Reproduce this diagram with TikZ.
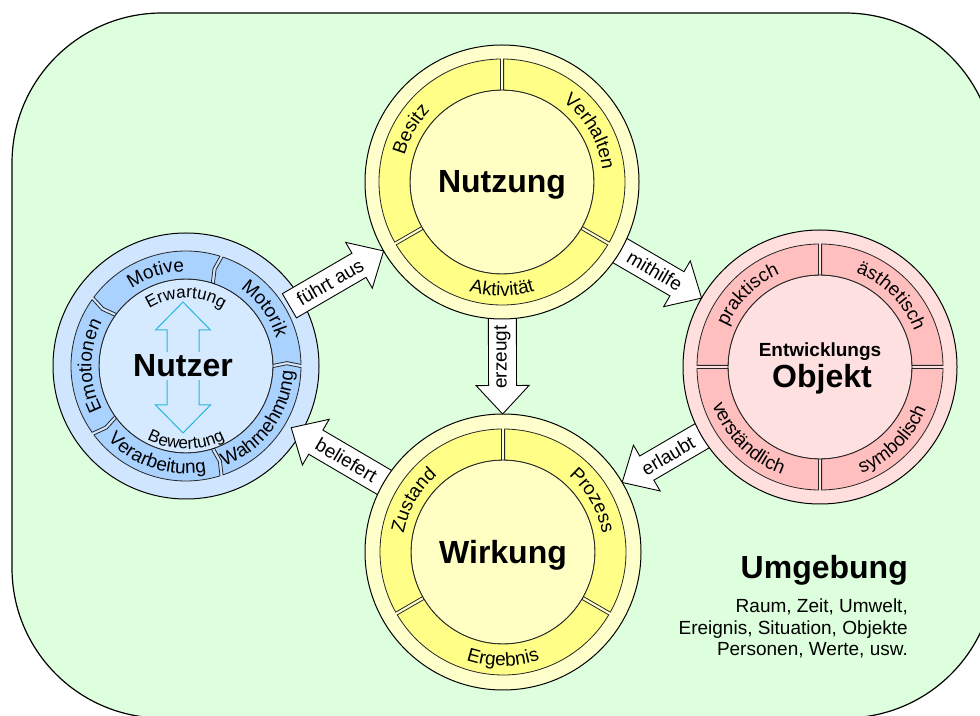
\documentclass[tikz,border=0pt]{standalone}
\usepackage{fontspec}
\setmainfont{Liberation Sans}
\usetikzlibrary{calc,decorations.text}

\definecolor{envgreen}{RGB}{221,255,221}
\definecolor{userouter}{RGB}{208,230,255}
\definecolor{userseg}{RGB}{170,210,255}
\definecolor{userinner}{RGB}{214,234,255}
\definecolor{useouter}{RGB}{255,255,204}
\definecolor{useseg}{RGB}{255,255,136}
\definecolor{useinner}{RGB}{255,255,196}
\definecolor{objouter}{RGB}{255,222,222}
\definecolor{objseg}{RGB}{255,191,191}
\definecolor{objinner}{RGB}{255,224,224}
\definecolor{cyanarrow}{RGB}{40,180,220}

\pgfdeclarelayer{envlayer}
\pgfdeclarelayer{userlayer}
\pgfdeclarelayer{arrowlayer}
\pgfsetlayers{envlayer,userlayer,arrowlayer,main}

\newcommand\segfont{\fontsize{19}{19}\selectfont}
\newcommand\innerfont{\fontsize{17}{17}\selectfont}

% annular sector of a ring between two angles, with a small gap at each end
\newcommand\ringsegment[6]{% #1 centre node, #2 start, #3 end, #4 inner r, #5 outer r, #6 fill
  \draw[segment, fill=#6, shift={(#1.center)}]
    ({#2+asin(1.6/#5)}:#5) arc[start angle={#2+asin(1.6/#5)}, end angle={#3-asin(1.6/#5)}, radius=#5]
    -- ({#3-asin(1.6/#4)}:#4) arc[start angle={#3-asin(1.6/#4)}, end angle={#2+asin(1.6/#4)}, radius=#4]
    -- cycle;}

% the same sector with a slight point at its leading end and a notch at its tail
\newcommand\cyclesegment[6]{% #1 centre node, #2 start, #3 end, #4 inner r, #5 outer r, #6 fill
  \draw[segment, fill=#6, shift={(#1.center)}]
    ({#2+asin(1.6/#5)}:#5) arc[start angle={#2+asin(1.6/#5)}, end angle={#3-asin(1.6/#5)}, radius=#5]
    -- ({#3-asin(3.2/(#4+#5))+1.6}:{(#4+#5)/2})
    -- ({#3-asin(1.6/#4)}:#4) arc[start angle={#3-asin(1.6/#4)}, end angle={#2+asin(1.6/#4)}, radius=#4]
    -- ({#2+asin(3.2/(#4+#5))+1.6}:{(#4+#5)/2})
    -- cycle;}

% text set along a circular arc round a node
\newcommand\ringlabel[6]{% #1 centre node, #2 radius, #3 start, #4 end, #5 font, #6 text
  \path[decorate, decoration={text along path, text align=center, text={|#5|#6}}]
    ([shift={(#3:#2)}]#1.center) arc[start angle=#3, end angle=#4, radius=#2];}

% block arrow pointing from one circle at another, with its label
\newcommand\flowarrow[7]{% #1 source, #2 target, #3 tip distance from target centre,
  % #4 arrow length, #5 label, #6 label distance from tip, #7 label turn
  \path (#1.center); \pgfgetlastxy{\fax}{\fay}
  \path (#2.center); \pgfgetlastxy{\fbx}{\fby}
  \pgfmathsetmacro\fang{atan2(\fby-\fay,\fbx-\fax)}
  \begin{scope}[shift={($(#2.center)!#3pt!(#1.center)$)}, rotate=\fang]
    \draw[blockarrow] (0,0) -- (-28.5,26.5) -- (-28.5,14) -- (-#4,14)
      -- (-#4,-14) -- (-28.5,-14) -- (-28.5,-26.5) -- cycle;
    \node[arrowlabel, rotate=\fang+#7] at (-#6,0) {#5};
  \end{scope}}

\begin{document}
\begin{tikzpicture}[x=1pt, y=1pt,
  segment/.style={draw=black!85, line width=0.8},
  rim/.style={circle, draw=black, line width=1, inner sep=0, outer sep=0},
  core/.style={draw=black, line width=0.9},
  blockarrow/.style={draw=black, fill=white, line width=0.9, line join=miter},
  arrowlabel/.style={font=\fontsize{19}{19}\selectfont, inner sep=0},
  title/.style={font=\fontsize{32}{32}\selectfont\bfseries, inner sep=0, anchor=base},
  envtext/.style={font=\fontsize{19}{19}\selectfont, inner sep=0, anchor=base east}]
\useasboundingbox (0,0) rectangle (980,715);

\begin{pgfonlayer}{envlayer}
  \clip (0,0) rectangle (980,715);
  \draw[fill=envgreen, line width=1.2, rounded corners=150] (12,-3) rectangle (995,702);
\end{pgfonlayer}

% ---- Nutzer (lies below the arrows)
\begin{pgfonlayer}{userlayer}
\node[rim, fill=userouter, minimum size=266] (nutzer) at (186,349) {};
\draw[core, fill=userinner] (nutzer.center) circle[radius=87];
\cyclesegment{nutzer}{0}{72}{87}{115}{userseg}
\cyclesegment{nutzer}{72}{144}{87}{115}{userseg}
\cyclesegment{nutzer}{144}{216}{87}{115}{userseg}
\cyclesegment{nutzer}{216}{288}{87}{115}{userseg}
\cyclesegment{nutzer}{288}{360}{87}{115}{userseg}
\ringlabel{nutzer}{94.5}{106}{-34}{\segfont}{Motorik}
\ringlabel{nutzer}{94.5}{178}{38}{\segfont}{Motive}
\ringlabel{nutzer}{94.5}{250}{110}{\segfont}{Emotionen}
\ringlabel{nutzer}{107.5}{182}{322}{\segfont}{Verarbeitung}
\ringlabel{nutzer}{107.5}{254}{394}{\segfont}{Wahrnehmung}
\ringlabel{nutzer}{68}{160}{20}{\innerfont}{Erwartung}
\ringlabel{nutzer}{83}{200}{340}{\innerfont}{Bewertung}
\draw[cyanarrow, line width=1] (183,413) -- (210.5,385) -- (199,385) -- (199,310)
  -- (210.5,310) -- (183,282) -- (155.5,310) -- (167,310) -- (167,385) -- (155.5,385) -- cycle;
\node[title, fill=userinner, inner sep=3] (nutzerlabel) at (183,338) {Nutzer};
\end{pgfonlayer}

% ---- Nutzung
\node[rim, fill=useouter, minimum size=274] (nutzung) at (502,533) {};
\draw[core, fill=useinner] (nutzung.center) circle[radius=92];
\ringsegment{nutzung}{-30}{90}{92}{123}{useseg}
\ringsegment{nutzung}{90}{210}{92}{123}{useseg}
\ringsegment{nutzung}{210}{330}{92}{123}{useseg}
\ringlabel{nutzung}{101}{220}{80}{\segfont}{Besitz}
\ringlabel{nutzung}{101}{100}{-40}{\segfont}{Verhalten}
\ringlabel{nutzung}{114}{200}{340}{\segfont}{Aktivität}
\node[title] (nutzunglabel) at (502,522) {Nutzung};

% ---- Wirkung
\node[rim, fill=useouter, minimum size=276] (wirkung) at (503,163) {};
\draw[core, fill=useinner] (wirkung.center) circle[radius=92];
\ringsegment{wirkung}{-30}{90}{92}{123}{useseg}
\ringsegment{wirkung}{90}{210}{92}{123}{useseg}
\ringsegment{wirkung}{210}{330}{92}{123}{useseg}
\ringlabel{wirkung}{101}{220}{80}{\segfont}{Zustand}
\ringlabel{wirkung}{101}{100}{-40}{\segfont}{Prozess}
\ringlabel{wirkung}{114}{200}{340}{\segfont}{Ergebnis}
\node[title] (wirkunglabel) at (503,151) {Wirkung};

% ---- Entwicklungsobjekt
\node[rim, fill=objouter, minimum size=274] (objekt) at (820,348) {};
\draw[core, fill=objinner] (objekt.center) circle[radius=92];
\ringsegment{objekt}{0}{90}{92}{123}{objseg}
\ringsegment{objekt}{90}{180}{92}{123}{objseg}
\ringsegment{objekt}{180}{270}{92}{123}{objseg}
\ringsegment{objekt}{270}{360}{92}{123}{objseg}
\ringlabel{objekt}{101}{205}{65}{\segfont}{praktisch}
\ringlabel{objekt}{101}{115}{-25}{\segfont}{ästhetisch}
\ringlabel{objekt}{114}{155}{295}{\segfont}{verständlich}
\ringlabel{objekt}{114}{245}{385}{\segfont}{symbolisch}
\node[title, font=\fontsize{19}{19}\selectfont\bfseries] (entwlabel) at (820,358) {Entwicklungs};
\node[title] (objektlabel) at (822,327) {Objekt};

% ---- environment
\node[title, anchor=base east] (umgebung) at (908,136) {Umgebung};
\node[envtext] (env1) at (908,102) {Raum, Zeit, Umwelt,};
\node[envtext] (env2) at (908,80) {Ereignis, Situation, Objekte};
\node[envtext] (env3) at (908,59) {Personen, Werte, usw.};

% ---- block arrows between the circles
\begin{pgfonlayer}{arrowlayer}
  \flowarrow{nutzer}{nutzung}{137}{109}{führt aus}{62}{0}
  \flowarrow{nutzung}{objekt}{137}{220}{mithilfe}{54}{0}
  \flowarrow{nutzung}{wirkung}{138}{220}{erzeugt}{57}{180}
  \flowarrow{wirkung}{nutzer}{122}{230}{beliefert}{64}{180}
  \flowarrow{objekt}{wirkung}{138}{220}{erlaubt}{53}{180}
\end{pgfonlayer}
\end{tikzpicture}
\end{document}
